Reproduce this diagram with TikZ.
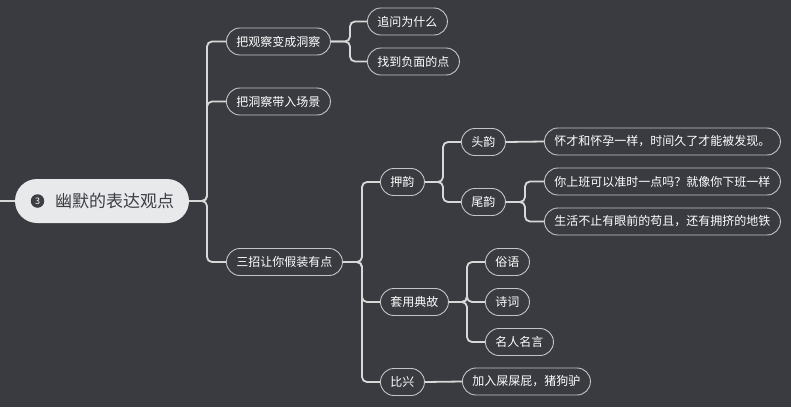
\documentclass[tikz,border=0pt]{standalone}
\usepackage{fontspec}
\setmainfont{Noto Sans CJK SC}
\definecolor{bg}{HTML}{393B40}
\definecolor{edge}{HTML}{D8D8D8}
\definecolor{frame}{HTML}{C4C4C4}
\definecolor{rootfill}{HTML}{E8E9EB}
\definecolor{roottext}{HTML}{3C3E44}
\begin{document}
\begin{tikzpicture}[x=1pt,y=-1pt,
  topic/.style={draw=frame, line width=0.9pt, fill=bg, text=white, rounded corners=13.5pt,
    minimum height=27pt, inner xsep=10pt, inner ysep=0pt, anchor=west, font=\fontsize{12}{14}\selectfont},
  link/.style={draw=edge, line width=1.8pt, rounded corners=5pt},
]
\fill[bg] (0,0) rectangle (791,407);
\useasboundingbox (0,0) rectangle (791,407);

% root
\node[fill=rootfill, rounded corners=22pt, minimum width=174pt, minimum height=44pt, inner sep=0pt] (root) at (102,201) {};
\node[circle, fill=roottext, text=white, inner sep=0pt, minimum size=13.5pt, font=\fontsize{9}{10}\selectfont] (rootnum) at (37.5,201) {3};
\node[text=roottext, inner sep=0pt, anchor=west, font=\fontsize{17}{20}\selectfont] (roottxt) at (55,201) {幽默的表达观点};
\coordinate (stub) at (0,201);

% level 1
\node[topic] (n1) at (226,41.5) {把观察变成洞察};
\node[topic] (n2) at (226,101.5) {把洞察带入场景};
\node[topic] (n3) at (226,262) {三招让你假装有点};
% level 2
\node[topic] (n11) at (367,21.5) {追问为什么};
\node[topic] (n12) at (367,61.5) {找到负面的点};
\node[topic] (n31) at (380,182) {押韵};
\node[topic] (n32) at (380,302) {套用典故};
\node[topic] (n33) at (380,382) {比兴};
% level 3
\node[topic] (n311) at (461,142) {头韵};
\node[topic] (n312) at (461,202) {尾韵};
\node[topic] (n321) at (485,262) {俗语};
\node[topic] (n322) at (485,302) {诗词};
\node[topic] (n323) at (485,342) {名人名言};
\node[topic] (n331) at (462,381.5) {加入屎屎屁，猪狗驴};
% level 4
\node[topic] (n3111) at (544,141.5) {怀才和怀孕一样，时间久了才能被发现。};
\node[topic] (n3121) at (544,181.5) {你上班可以准时一点吗？就像你下班一样};
\node[topic] (n3122) at (544,221.5) {生活不止有眼前的苟且，还有拥挤的地铁};

% connectors
\draw[link, rounded corners=0pt] (stub) -- (root.west);
\foreach \c in {n1,n2,n3} \draw[link] (root.east) -- (207,201) |- (\c.west);
\foreach \c in {n11,n12} \draw[link] (n1.east) -- (350,41.5) |- (\c.west);
\foreach \c in {n31,n32,n33} \draw[link] (n3.east) -- (362,262) |- (\c.west);
\foreach \c in {n311,n312} \draw[link] (n31.east) -- (443,182) |- (\c.west);
\foreach \c in {n3121,n3122} \draw[link] (n312.east) -- (525,202) |- (\c.west);
\foreach \c in {n321,n322,n323} \draw[link] (n32.east) -- (467,302) |- (\c.west);
\draw[link] (n311.east) -- (n3111.west);
\draw[link] (n33.east) -- (n331.west);
\end{tikzpicture}
\end{document}
